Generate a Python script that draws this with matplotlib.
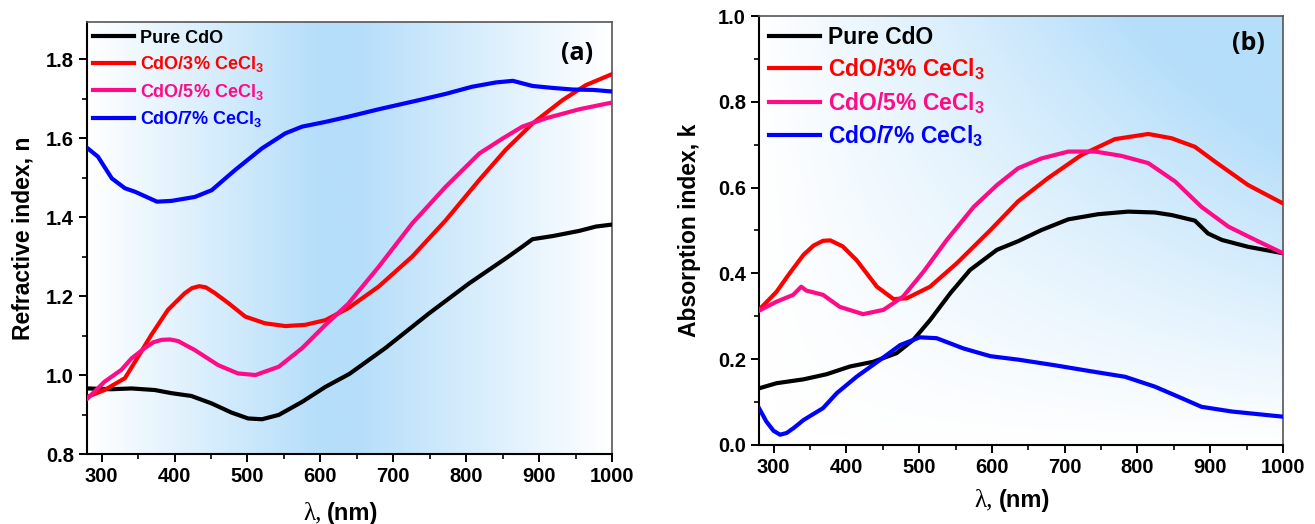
import numpy as np
import matplotlib
matplotlib.use('Agg')
import matplotlib.pyplot as plt
from matplotlib.colors import LinearSegmentedColormap

plt.rcParams['font.family'] = ['Liberation Sans', 'DejaVu Sans']
plt.rcParams['font.weight'] = 'bold'
plt.rcParams['mathtext.fontset'] = 'custom'
plt.rcParams['mathtext.rm'] = 'Liberation Sans'
plt.rcParams['mathtext.bf'] = 'Liberation Sans:bold'

# ---- (a) refractive index n ----
wl_pure_n = [281, 313, 341, 373, 396, 423, 451, 478, 501, 520, 543, 575, 607, 640,
             689, 749, 804, 854, 877, 891, 919, 955, 978, 1000]
n_pure = [0.966, 0.964, 0.966, 0.962, 0.954, 0.947, 0.928, 0.905, 0.890, 0.888, 0.899, 0.932,
          0.970, 1.003, 1.068, 1.156, 1.232, 1.295, 1.325, 1.344, 1.352, 1.365, 1.376, 1.381]

wl_3_n = [281, 304, 332, 350, 368, 391, 414, 424, 434, 443, 455, 474, 497, 524, 552, 579, 607,
          638, 680, 726, 772, 818, 854, 891, 932, 964, 1000]
n_3 = [0.945, 0.962, 0.992, 1.046, 1.101, 1.165, 1.207, 1.220, 1.225, 1.222, 1.208, 1.182,
       1.148, 1.131, 1.124, 1.127, 1.139, 1.169, 1.224, 1.300, 1.392, 1.494, 1.570, 1.637,
       1.696, 1.734, 1.762]

wl_5_n = [281, 304, 327, 341, 359, 371, 382, 394, 405, 428, 460, 487, 511, 543, 575, 607, 638,
          680, 726, 772, 818, 850, 877, 909, 955, 1000]
n_5 = [0.941, 0.983, 1.013, 1.042, 1.068, 1.083, 1.089, 1.090, 1.086, 1.063, 1.025, 1.004,
       1.000, 1.021, 1.068, 1.127, 1.180, 1.274, 1.384, 1.477, 1.561, 1.599, 1.629, 1.650,
       1.673, 1.690]

wl_7_n = [281, 295, 314, 332, 346, 376, 396, 428, 451, 483, 520, 552, 575, 607, 638,
          680, 735, 772, 808, 841, 864, 891, 919, 946, 974, 1000]
n_7 = [1.574, 1.553, 1.498, 1.473, 1.464, 1.439, 1.441, 1.451, 1.468, 1.519, 1.574, 1.612,
       1.629, 1.641, 1.654, 1.673, 1.696, 1.712, 1.730, 1.741, 1.745, 1.732, 1.727, 1.723,
       1.722, 1.718]

# ---- (b) absorption index k ----
wl_pure_k = [280, 304, 341, 373, 405, 437, 469, 492, 515, 543, 570, 607, 636, 668, 705,
             746, 787, 824, 847, 879, 897, 916, 952, 1000]
k_pure = [0.132, 0.144, 0.153, 0.165, 0.183, 0.194, 0.214, 0.245, 0.291, 0.354, 0.408, 0.455,
          0.475, 0.501, 0.526, 0.538, 0.544, 0.542, 0.536, 0.523, 0.493, 0.478, 0.462, 0.447]

wl_3_k = [280, 304, 322, 341, 355, 368, 378, 395, 414, 442, 465, 483, 515, 552, 598, 636, 677,
          723, 769, 815, 847, 879, 907, 952, 1000]
k_3 = [0.315, 0.357, 0.400, 0.443, 0.465, 0.476, 0.477, 0.463, 0.431, 0.369, 0.340, 0.342,
       0.369, 0.424, 0.501, 0.568, 0.622, 0.676, 0.713, 0.725, 0.715, 0.695, 0.660, 0.606,
       0.563]

wl_5_k = [280, 304, 327, 338, 345, 368, 391, 423, 451, 478, 506, 538, 575, 607, 636, 668,
          705, 742, 778, 815, 852, 888, 925, 962, 1000]
k_5 = [0.313, 0.334, 0.350, 0.369, 0.360, 0.350, 0.322, 0.305, 0.315, 0.346, 0.404, 0.478,
       0.555, 0.606, 0.645, 0.668, 0.684, 0.684, 0.674, 0.657, 0.614, 0.555, 0.509, 0.478, 0.447]

wl_7_k = [280, 290, 300, 309, 318, 328, 341, 368, 387, 414, 446, 474, 501, 524, 561, 598,
          636, 686, 732, 783, 824, 861, 888, 930, 1000]
k_7 = [0.086, 0.055, 0.033, 0.024, 0.028, 0.040, 0.058, 0.086, 0.121, 0.159, 0.198, 0.233,
       0.251, 0.249, 0.225, 0.207, 0.199, 0.186, 0.173, 0.159, 0.136, 0.109, 0.089, 0.078,
       0.066]

labels = ['Pure CdO', r'CdO/3% CeCl$_\mathbf{3}$', r'CdO/5% CeCl$_\mathbf{3}$',
          r'CdO/7% CeCl$_\mathbf{3}$']
colors = ['black', '#ff0000', '#ff0a87', '#0000ff']

bg = LinearSegmentedColormap.from_list('bg', ['#ffffff', '#b5defa'])


def style_axes(ax, label_drop):
    for side in ['left', 'bottom']:
        ax.spines[side].set_linewidth(1.5)
    for side in ['top', 'right']:
        ax.spines[side].set_linewidth(1.2)
        ax.spines[side].set_color('#555555')
    ax.tick_params(which='major', direction='out', length=6, width=1.4, labelsize=14.5,
                   top=False, right=False)
    ax.tick_params(which='minor', direction='out', length=3.5, width=1.2,
                   top=False, right=False)
    ax.set_xlim(280, 1000)
    ax.set_xticks(np.arange(300, 1001, 100))
    ax.set_xticks(np.arange(350, 1000, 100), minor=True)
    # x label: serif lambda + bold sans "(nm)"
    ax.annotate('λ,', xy=(0.5, 0), xycoords='axes fraction', xytext=(-20, -label_drop),
                textcoords='offset points', ha='right', va='center', fontsize=18,
                fontweight='normal', family=['Liberation Serif', 'DejaVu Serif'])
    ax.annotate('(nm)', xy=(0.5, 0), xycoords='axes fraction', xytext=(-16, -label_drop),
                textcoords='offset points', ha='left', va='center', fontsize=17,
                fontweight='bold')


fig = plt.figure(figsize=(13.15, 5.24), dpi=100)
ax1 = fig.add_axes([87 / 1315, 1 - 454 / 524, 525 / 1315, 432 / 524])
ax2 = fig.add_axes([759 / 1315, 1 - 445 / 524, 524 / 1315, 429 / 524])

# background gradients
u = np.linspace(0, 1, 400)
wl_grid = 280 + 720 * u
grad_a = np.interp(wl_grid, [280, 600, 650, 1000], [0, 1, 1, 0])
ax1.imshow(np.tile(grad_a, (2, 1)), extent=[0, 1, 0, 1], transform=ax1.transAxes,
           cmap=bg, vmin=0, vmax=1, aspect='auto', zorder=0, interpolation='bilinear')
uu, vv = np.meshgrid(np.linspace(0, 1, 300), np.linspace(0, 1, 300))
grad_b = np.clip(1.4 * uu * vv, 0, 1)
ax2.imshow(grad_b, extent=[0, 1, 0, 1], origin='lower', transform=ax2.transAxes,
           cmap=bg, vmin=0, vmax=1, aspect='auto', zorder=0, interpolation='bilinear')

n_data = [(wl_pure_n, n_pure), (wl_3_n, n_3), (wl_5_n, n_5), (wl_7_n, n_7)]
k_data = [(wl_pure_k, k_pure), (wl_3_k, k_3), (wl_5_k, k_5), (wl_7_k, k_7)]

for (x, y), c, lab in zip(n_data, colors, labels):
    ax1.plot(x, y, color=c, lw=3, label=lab, zorder=3, solid_joinstyle='round')
for (x, y), c, lab in zip(k_data, colors, labels):
    ax2.plot(x, y, color=c, lw=3, label=lab, zorder=3, solid_joinstyle='round')

style_axes(ax1, 43)
ax1.set_ylim(0.8, 1.894)
ax1.set_yticks(np.arange(0.8, 1.81, 0.2))
ax1.set_yticks(np.arange(0.9, 1.9, 0.2), minor=True)
ax1.set_ylabel('Refractive index, n', fontsize=16.5, fontweight='bold', labelpad=8)
ax1.text(0.965, 0.955, '(a)', transform=ax1.transAxes, ha='right', va='top',
         fontsize=18, fontweight='bold', family=['Open Sans', 'DejaVu Sans'])
ax1.legend(loc='upper left', bbox_to_anchor=(-0.02, 1.02), frameon=False, fontsize=13,
           handlelength=2.3, handletextpad=0.3, labelspacing=0.42, labelcolor='linecolor')

style_axes(ax2, 40)
ax2.set_ylim(0, 1.0)
ax2.set_yticks(np.arange(0, 1.01, 0.2))
ax2.set_yticks(np.arange(0.1, 1.0, 0.2), minor=True)
ax2.set_ylabel('Absorption index, k', fontsize=16.5, fontweight='bold', labelpad=12)
ax2.text(0.965, 0.965, '(b)', transform=ax2.transAxes, ha='right', va='top',
         fontsize=18, fontweight='bold', family=['Open Sans', 'DejaVu Sans'])
ax2.legend(loc='upper left', bbox_to_anchor=(-0.02, 1.025), frameon=False, fontsize=16.5,
           handlelength=2.2, handletextpad=0.35, labelspacing=0.33, labelcolor='linecolor')

fig.savefig('out.png', dpi=100)
